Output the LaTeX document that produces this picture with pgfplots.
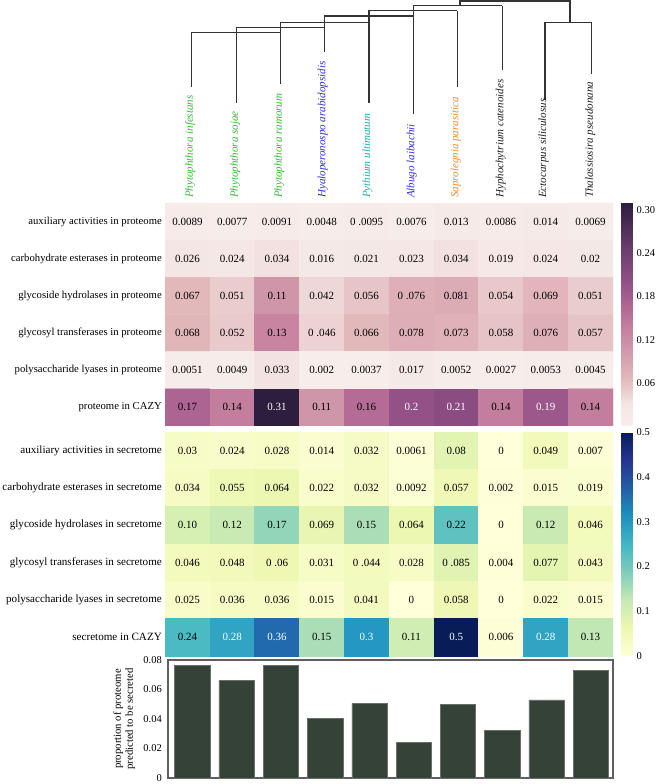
\documentclass[border=0pt]{standalone}
\usepackage{pgfplots}
\pgfplotsset{compat=1.18}
\usepackage{fontspec}
\setmainfont{Liberation Serif}

\definecolor{pgreen}{RGB}{50,185,50}
\definecolor{pblue}{RGB}{45,45,225}
\definecolor{pcyan}{RGB}{35,170,170}
\definecolor{porange}{RGB}{230,140,50}
\definecolor{ptext}{RGB}{30,30,30}
\definecolor{barc}{RGB}{52,66,56}
\definecolor{framec}{RGB}{95,95,95}

\newcommand{\rowfont}{\fontsize{10.7}{12}\selectfont}
\newcommand{\rowfontb}{\fontsize{11.1}{13}\selectfont}
\newcommand{\cellfont}{\fontsize{11}{13}\selectfont}
\newcommand{\tickfont}{\fontsize{10.5}{12}\selectfont}
\newcommand{\spfont}{\itshape\fontsize{11}{13}\selectfont}

\pgfplotsset{
  colormap={chpink}{rgb255(0pt)=(247,238,235); rgb255(10pt)=(243,229,227); rgb255(22pt)=(225,182,185); rgb255(35pt)=(208,150,170); rgb255(45pt)=(195,125,157); rgb255(55pt)=(172,100,146); rgb255(65pt)=(146,80,135); rgb255(80pt)=(105,60,108); rgb255(100pt)=(45,30,62)},
  colormap={ylgnbu}{rgb255(0pt)=(255,255,217); rgb255(1pt)=(237,248,177); rgb255(2pt)=(199,233,180); rgb255(3pt)=(127,205,187); rgb255(4pt)=(65,182,196); rgb255(5pt)=(29,145,192); rgb255(6pt)=(34,94,168); rgb255(7pt)=(37,52,148); rgb255(8pt)=(8,29,88)},
  dendro/.style={draw=black!80, line width=1.2pt, mark=none},
  celltxt/.style={draw=none, mark=none, nodes near coords, point meta=explicit symbolic,
    every node near coord/.append style={anchor=center, inner sep=0pt, font=\cellfont, text=#1}},
  hm/.style={scale only axis, width=448pt, xmin=-0.5, xmax=9.5, ymin=-0.5, ymax=5.5, y dir=reverse,
    axis line style={draw=none}, xtick=\empty, ytick={0,...,5}, major tick length=0pt,
    yticklabel style={inner sep=0pt, xshift=-3pt}},
}

\begin{document}
\begin{tikzpicture}
\path[use as bounding box] (0pt,0pt) rectangle (656pt,784pt);

% ---------------- dendrogram and species names ----------------
\begin{axis}[at={(165pt,581pt)}, anchor=south west, scale only axis, width=448pt, height=203pt,
  xmin=165, xmax=613, ymin=0, ymax=203, y dir=reverse, hide axis, clip=false]
\addplot[dendro] coordinates {(191.7,87) (191.7,32.7) (280.7,32.7)};
\addplot[dendro] coordinates {(280.7,84) (280.7,22.3) (369,22.3)};
\addplot[dendro] coordinates {(236.7,103) (236.7,27.3) (324.3,27.3)};
\addplot[dendro] coordinates {(324.3,52) (324.3,16) (413.3,16)};
\addplot[dendro] coordinates {(369,103) (369,10.7) (457.3,10.7)};
\addplot[dendro] coordinates {(413.3,114) (413.3,5.7) (502.3,5.7)};
\addplot[dendro] coordinates {(457.3,87) (457.3,10.7)};
\addplot[dendro] coordinates {(502.3,70) (502.3,5.7)};
\addplot[dendro] coordinates {(460,5.7) (460,1) (570,1) (570,22.3)};
\addplot[dendro] coordinates {(545,100) (545,22.3) (591.7,22.3) (591.7,74)};
\begin{scope}[every node/.style={rotate=90, anchor=west, inner sep=0pt, font=\spfont}]
\node[text=pgreen] at (axis cs:190.2,198) {Phytophthora infestans};
\node[text=pgreen] at (axis cs:235.2,198) {Phytophthora sojae};
\node[text=pgreen] at (axis cs:279.2,198) {Phytophthora ramorum};
\node[text=pblue] at (axis cs:322.8,198) {Hyaloperonospo arabidopsidis};
\node[text=pcyan] at (axis cs:367.5,198) {Pythium ultimatum};
\node[text=pblue] at (axis cs:411.8,198) {Albugo laibachii};
\node[text=porange] at (axis cs:455.8,198) {Saprolegnia parasitica};
\node[text=ptext] at (axis cs:500.8,198) {Hyphochytrium catenoides};
\node[text=ptext] at (axis cs:543.5,198) {Ectocarpus siliculosus};
\node[text=ptext] at (axis cs:590.2,198) {Thalassiosira pseudonana};
\end{scope}
\end{axis}

% ---------------- proteome heatmap ----------------
\begin{axis}[hm, at={(165pt,358pt)}, anchor=south west, height=223pt,
  yticklabel style={font=\rowfont},
  yticklabels={auxiliary activities in proteome, carbohydrate esterases in proteome, glycoside hydrolases in proteome, glycosyl transferases in proteome, polysaccharide lyases in proteome, proteome in CAZY},
  colormap name=chpink, point meta min=0, point meta max=0.31,
  colorbar, colorbar style={at={(parent axis.north east)}, anchor=north west, xshift=0pt, width=11pt,
    axis line style={draw=none}, major tick length=0pt,
    ytick={0.06,0.12,0.18,0.24,0.30}, yticklabels={0.06,0.12,0.18,0.24,0.30},
    yticklabel style={font=\tickfont, inner sep=0pt, xshift=4pt}}]
\addplot[matrix plot*, mesh/cols=10, point meta=explicit] table[meta=v] {
x y v
0 0 0.0089
1 0 0.0077
2 0 0.0091
3 0 0.0048
4 0 0.0095
5 0 0.0076
6 0 0.013
7 0 0.0086
8 0 0.014
9 0 0.0069
0 1 0.026
1 1 0.024
2 1 0.034
3 1 0.016
4 1 0.021
5 1 0.023
6 1 0.034
7 1 0.019
8 1 0.024
9 1 0.02
0 2 0.067
1 2 0.051
2 2 0.11
3 2 0.042
4 2 0.056
5 2 0.076
6 2 0.081
7 2 0.054
8 2 0.069
9 2 0.051
0 3 0.068
1 3 0.052
2 3 0.13
3 3 0.046
4 3 0.066
5 3 0.078
6 3 0.073
7 3 0.058
8 3 0.076
9 3 0.057
0 4 0.0051
1 4 0.0049
2 4 0.033
3 4 0.002
4 4 0.0037
5 4 0.017
6 4 0.0052
7 4 0.0027
8 4 0.0053
9 4 0.0045
0 5 0.17
1 5 0.14
2 5 0.31
3 5 0.11
4 5 0.16
5 5 0.2
6 5 0.21
7 5 0.14
8 5 0.19
9 5 0.14
};
\addplot[celltxt=black] coordinates {
(0,0)[0.0089] (1,0)[0.0077] (2,0)[0.0091] (3,0)[0.0048] (4,0)[0 .0095] (5,0)[0.0076] (6,0)[0.013] (7,0)[0.0086] (8,0)[0.014] (9,0)[0.0069]
(0,1)[0.026] (1,1)[0.024] (2,1)[0.034] (3,1)[0.016] (4,1)[0.021] (5,1)[0.023] (6,1)[0.034] (7,1)[0.019] (8,1)[0.024] (9,1)[0.02]
(0,2)[0.067] (1,2)[0.051] (2,2)[0.11] (3,2)[0.042] (4,2)[0.056] (5,2)[0 .076] (6,2)[0.081] (7,2)[0.054] (8,2)[0.069] (9,2)[0.051]
(0,3)[0.068] (1,3)[0.052] (2,3)[0.13] (3,3)[0 .046] (4,3)[0.066] (5,3)[0.078] (6,3)[0.073] (7,3)[0.058] (8,3)[0.076] (9,3)[0.057]
(0,4)[0.0051] (1,4)[0.0049] (2,4)[0.033] (3,4)[0.002] (4,4)[0.0037] (5,4)[0.017] (6,4)[0.0052] (7,4)[0.0027] (8,4)[0.0053] (9,4)[0.0045]
(0,5)[0.17] (1,5)[0.14] (3,5)[0.11] (4,5)[0.16] (7,5)[0.14] (9,5)[0.14]
};
\addplot[celltxt=white] coordinates {(2,5)[0.31] (5,5)[0.2] (6,5)[0.21] (8,5)[0.19]};
\end{axis}

% ---------------- secretome heatmap ----------------
\begin{axis}[hm, at={(165pt,128pt)}, anchor=south west, height=224pt,
  yticklabel style={font=\rowfontb},
  yticklabels={auxiliary activities in secretome, carbohydrate esterases in secretome, glycoside hydrolases in secretome, glycosyl transferases in secretome, polysaccharide lyases in secretome, secretome in CAZY},
  colormap name=ylgnbu, point meta min=0, point meta max=0.5,
  colorbar, colorbar style={at={(parent axis.north east)}, anchor=north west, xshift=0pt, width=11pt,
    axis line style={draw=none}, major tick length=0pt,
    ytick={0,0.1,0.2,0.3,0.4,0.5}, yticklabels={0,0.1,0.2,0.3,0.4,0.5},
    yticklabel style={font=\tickfont, inner sep=0pt, xshift=4pt}}]
\addplot[matrix plot*, mesh/cols=10, point meta=explicit] table[meta=v] {
x y v
0 0 0.03
1 0 0.024
2 0 0.028
3 0 0.014
4 0 0.032
5 0 0.0061
6 0 0.08
7 0 0
8 0 0.049
9 0 0.007
0 1 0.034
1 1 0.055
2 1 0.064
3 1 0.022
4 1 0.032
5 1 0.0092
6 1 0.057
7 1 0.002
8 1 0.015
9 1 0.019
0 2 0.10
1 2 0.12
2 2 0.17
3 2 0.069
4 2 0.15
5 2 0.064
6 2 0.22
7 2 0
8 2 0.12
9 2 0.046
0 3 0.046
1 3 0.048
2 3 0.06
3 3 0.031
4 3 0.044
5 3 0.028
6 3 0.085
7 3 0.004
8 3 0.077
9 3 0.043
0 4 0.025
1 4 0.036
2 4 0.036
3 4 0.015
4 4 0.041
5 4 0
6 4 0.058
7 4 0
8 4 0.022
9 4 0.015
0 5 0.24
1 5 0.28
2 5 0.36
3 5 0.15
4 5 0.3
5 5 0.11
6 5 0.5
7 5 0.006
8 5 0.28
9 5 0.13
};
\addplot[celltxt=black] coordinates {
(0,0)[0.03] (1,0)[0.024] (2,0)[0.028] (3,0)[0.014] (4,0)[0.032] (5,0)[0.0061] (6,0)[0.08] (7,0)[0] (8,0)[0.049] (9,0)[0.007]
(0,1)[0.034] (1,1)[0.055] (2,1)[0.064] (3,1)[0.022] (4,1)[0.032] (5,1)[0.0092] (6,1)[0.057] (7,1)[0.002] (8,1)[0.015] (9,1)[0.019]
(0,2)[0.10] (1,2)[0.12] (2,2)[0.17] (3,2)[0.069] (4,2)[0.15] (5,2)[0.064] (6,2)[0.22] (7,2)[0] (8,2)[0.12] (9,2)[0.046]
(0,3)[0.046] (1,3)[0.048] (2,3)[0 .06] (3,3)[0.031] (4,3)[0 .044] (5,3)[0.028] (6,3)[0 .085] (7,3)[0.004] (8,3)[0.077] (9,3)[0.043]
(0,4)[0.025] (1,4)[0.036] (2,4)[0.036] (3,4)[0.015] (4,4)[0.041] (5,4)[0] (6,4)[0.058] (7,4)[0] (8,4)[0.022] (9,4)[0.015]
(0,5)[0.24] (3,5)[0.15] (5,5)[0.11] (7,5)[0.006] (9,5)[0.13]
};
\addplot[celltxt=white] coordinates {(1,5)[0.28] (2,5)[0.36] (4,5)[0.3] (6,5)[0.5] (8,5)[0.28]};
\end{axis}

% ---------------- bar chart ----------------
\begin{axis}[at={(168pt,6pt)}, anchor=south west, scale only axis, width=445pt, height=118pt,
  xmin=-0.55, xmax=9.5, ymin=0, ymax=0.08, scaled y ticks=false,
  xtick=\empty, ytick={0,0.02,0.04,0.06,0.08}, yticklabels={0,0.02,0.04,0.06,0.08},
  major tick length=0pt,
  yticklabel style={font=\tickfont, inner sep=0pt, xshift=-6pt},
  axis line style={draw=framec, line width=1.1pt},
  ylabel={proportion of proteome\\predicted to be secreted},
  ylabel style={align=center, font=\rowfont, inner sep=0pt, yshift=8pt}]
\addplot[ybar, bar width=0.8, fill=barc, draw=barc!75!white, line width=0.5pt] coordinates {
(0,0.0766) (1,0.0660) (2,0.0766) (3,0.0402) (4,0.0506) (5,0.0239) (6,0.0500) (7,0.0325) (8,0.0529) (9,0.0732)};
\end{axis}
\end{tikzpicture}
\end{document}
